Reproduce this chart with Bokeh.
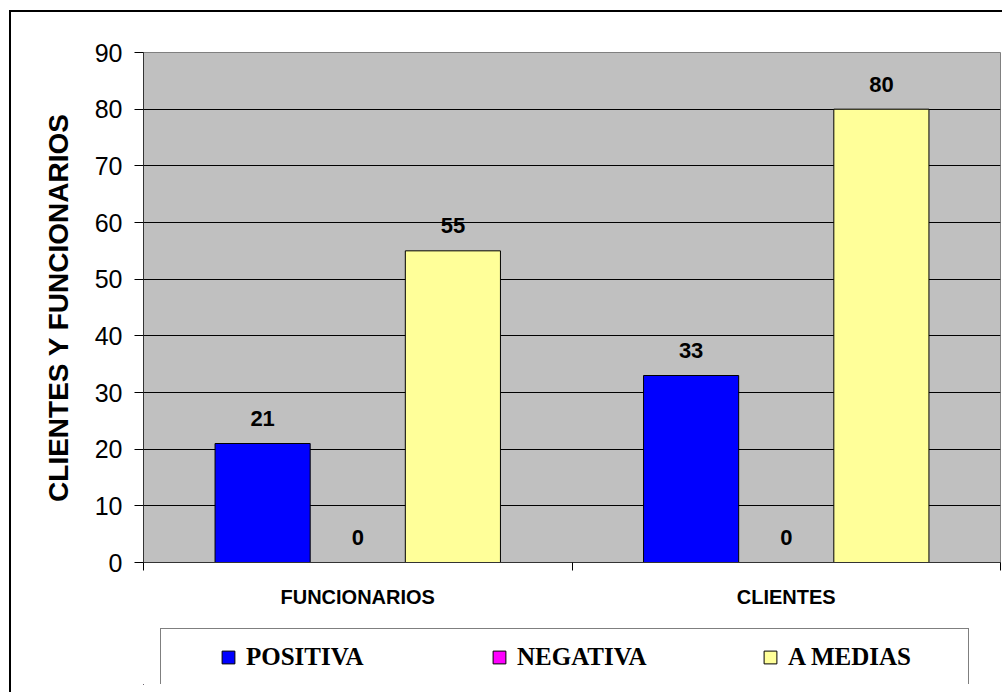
from bokeh.plotting import figure
from bokeh.layouts import column
from bokeh.models import (ColumnDataSource, Range1d, FixedTicker, Legend, LegendItem,
                          LabelSet, InlineStyleSheet)
from bokeh.core.properties import value
from bokeh.embed import file_html
from bokeh.resources import INLINE

# --- data ---------------------------------------------------------------
groups = ["FUNCIONARIOS", "CLIENTES"]
series_names = ["POSITIVA", "NEGATIVA", "A MEDIAS"]
positiva = [21, 33]
negativa = [0, 0]
a_medias = [55, 80]
series_colors = ["#0000FF", "#FF00FF", "#FFFF99"]
y_ticks = [0, 10, 20, 30, 40, 50, 60, 70, 80, 90]

SANS = "Liberation Sans"
SERIF = "Liberation Serif"

# each group occupies one unit on x; three adjacent bars centred in it
bar_w = 0.222
offsets = [-bar_w, 0.0, bar_w]
centers = [i + 0.5 for i in range(len(groups))]
bounds = [float(i) for i in range(len(groups) + 1)]

p = figure(width=1002, height=617,
           x_range=Range1d(0, len(groups)), y_range=Range1d(0, y_ticks[-1]),
           output_backend="svg", toolbar_location=None,
           min_border_left=143, min_border_right=2,
           min_border_top=52, min_border_bottom=55)

p.background_fill_color = "#C0C0C0"
p.border_fill_color = "white"
p.outline_line_color = "#808080"
p.outline_line_width = 1

# horizontal grid
p.xgrid.visible = False
p.ygrid.ticker = FixedTicker(ticks=y_ticks)
p.ygrid.grid_line_color = "black"
p.ygrid.grid_line_width = 1

# y axis
ya = p.yaxis[0]
ya.ticker = FixedTicker(ticks=y_ticks)
ya.axis_line_color = "#333333"
ya.major_tick_line_color = "black"
ya.major_tick_out = 9
ya.major_tick_in = 0
ya.minor_tick_line_color = None
ya.major_label_text_font = SANS
ya.major_label_text_font_size = "25px"
ya.major_label_text_color = "black"
ya.major_label_standoff = 12
ya.axis_label = "CLIENTES Y FUNCIONARIOS"
ya.axis_label_text_font = SANS
ya.axis_label_text_font_style = "bold"
ya.axis_label_text_font_size = "28px"
ya.axis_label_text_color = "black"
ya.axis_label_standoff = 18

# x axis: labels at group centres, short ticks at group boundaries
xa = p.xaxis[0]
xa.ticker = FixedTicker(ticks=centers, minor_ticks=bounds)
xa.major_label_overrides = {c: g for c, g in zip(centers, groups)}
xa.axis_line_color = "#333333"
xa.major_tick_line_color = None
xa.major_tick_out = 0
xa.major_tick_in = 0
xa.minor_tick_line_color = "black"
xa.minor_tick_out = 8
xa.minor_tick_in = 0
xa.major_label_text_font = SANS
xa.major_label_text_font_style = "bold"
xa.major_label_text_font_size = "20px"
xa.major_label_text_color = "black"
xa.major_label_standoff = 15

# bars and value labels
for k, (vals, color) in enumerate(zip([positiva, negativa, a_medias], series_colors)):
    src = ColumnDataSource(dict(
        x=[c + offsets[k] for c in centers],
        top=vals,
        label=[str(v) for v in vals],
    ))
    p.vbar(x="x", top="top", bottom=0, width=bar_w, source=src,
           fill_color=color, line_color="black", line_width=1)
    p.add_layout(LabelSet(x="x", y="top", text="label", source=src,
                          y_offset=25, text_align="center", text_baseline="middle",
                          text_font=value(SANS), text_font_style="bold",
                          text_font_size="22px", text_color="black"))

# --- legend strip ---------------------------------------------------------
# its own small canvas; the legend box is cut off at the strip's frame
leg = figure(width=1002, height=75, output_backend="svg", toolbar_location=None,
             x_axis_location=None, y_axis_location=None,
             x_range=Range1d(0, 1), y_range=Range1d(0, 1),
             min_border_left=143, min_border_right=2,
             min_border_top=0, min_border_bottom=8)
leg.grid.visible = False
leg.outline_line_color = None
leg.background_fill_color = "white"
leg.border_fill_color = "white"

# swatch renderers sit outside the strip's visible range; only their
# legend glyphs are seen
swatches = [leg.vbar(x=[-5.0], top=[-5.0], bottom=[-6.0], width=1,
                     fill_color=c, line_color="black", line_width=1)
            for c in series_colors]

legend = Legend(
    items=[LegendItem(label=n, renderers=[r]) for n, r in zip(series_names, swatches)],
    location=(17, -2), orientation="horizontal",
    title=" ", title_location="left", title_text_font_size="1px", title_standoff=44,
    padding=14, margin=0, spacing=79, label_width=166,
    glyph_width=16, glyph_height=16, label_standoff=10,
    label_text_font=SERIF, label_text_font_style="bold",
    label_text_font_size="25px", label_text_color="black",
    border_line_color="black", border_line_width=1,
    background_fill_color="white", background_fill_alpha=1,
)
leg.add_layout(legend)

layout = column(p, leg, spacing=0)

# black frame line along the top and left of the whole chart
layout.stylesheets = [InlineStyleSheet(css="""
:host::after {
  content: "";
  position: absolute;
  left: 9px; top: 10px; right: 0; bottom: 0;
  border-left: 2px solid black;
  border-top: 2px solid black;
  pointer-events: none;
  z-index: 10;
}
""")]

open("out.html", "w").write(file_html(layout, INLINE))
